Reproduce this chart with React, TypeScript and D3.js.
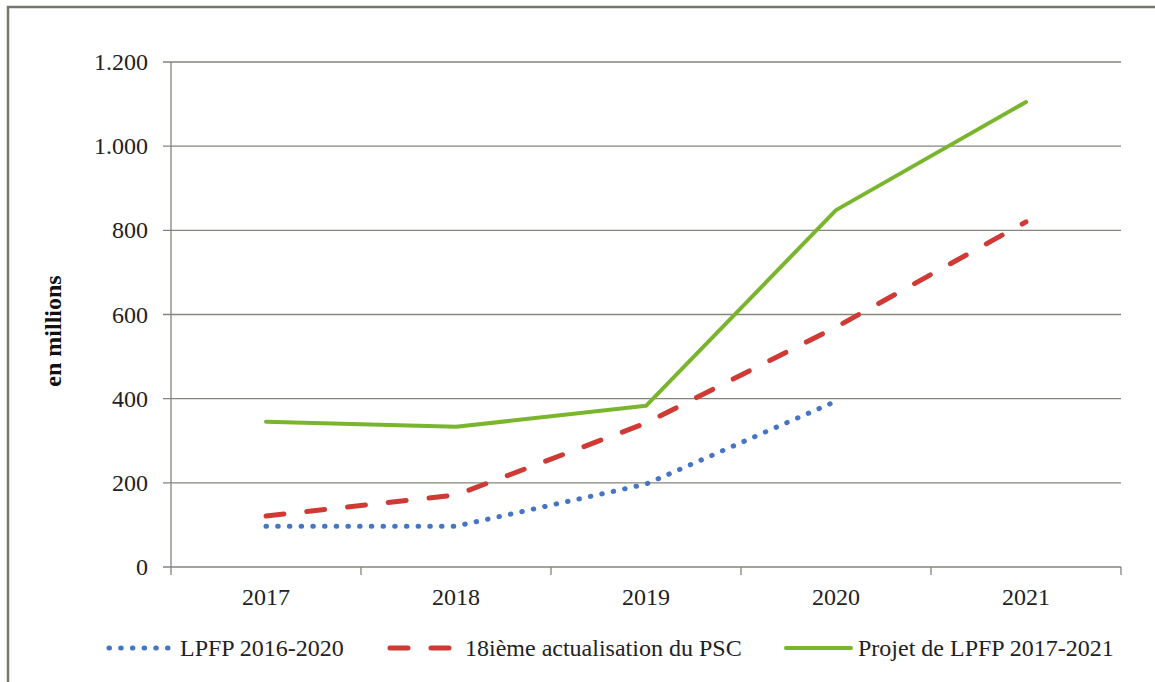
import React from 'react';
import * as d3 from 'd3';

// categories and series (en millions)
const years = ['2017', '2018', '2019', '2020', '2021'];
const lpfp2016 = [97, 97, 197, 394, null];
const actualisation18 = [121, 171, 342, 570, 820];
const projet2017 = [345, 333, 383, 848, 1105];
const yTicks = [0, 200, 400, 600, 800, 1000, 1200];

const seriesNames = ['LPFP 2016-2020', '18ième actualisation du PSC', 'Projet de LPFP 2017-2021'];

const W = 1155;
const H = 682;
const margin = { top: 62, right: 34, bottom: 115, left: 171 };
const FONT = '"Liberation Serif", "Times New Roman", serif';
const GRID = '#85857a';

const fmt = (v: number) => d3.format(',')(v).replace(/,/g, '.');

const App = () => {
  const x = d3.scaleBand<string>()
    .domain(years)
    .range([margin.left, W - margin.right]);

  const y = d3.scaleLinear()
    .domain([0, 1200])
    .range([H - margin.bottom, margin.top]);

  const cx = (d: string) => (x(d) as number) + x.bandwidth() / 2;

  const line = d3.line<[string, number | null]>()
    .defined(d => d[1] != null)
    .x(d => cx(d[0]))
    .y(d => y(d[1] as number));

  const series = [
    { name: seriesNames[0], values: lpfp2016, color: '#4575c4', width: 5, dash: '0.5 11.2' },
    { name: seriesNames[1], values: actualisation18, color: '#cf3a35', width: 5, dash: '18 23' },
    { name: seriesNames[2], values: projet2017, color: '#7ab52e', width: 4, dash: null },
  ];

  const x0 = margin.left;
  const x1 = W - margin.right;
  const yBase = y(0);

  // legend layout
  const legend = [
    { sx: 109, ex: 172, tx: 180 },
    { sx: 390, ex: 455, tx: 465 },
    { sx: 786, ex: 851, tx: 858 },
  ];
  const legendY = 648;

  return (
    <svg width={W} height={H} style={{ position: 'absolute', left: 0, top: 0, background: '#fff' }}>
      {/* outer frame */}
      <rect x={8} y={7} width={W + 10} height={H + 10} fill="#fff" stroke="#77786a" strokeWidth={2.5} />

      {/* grid lines and y ticks */}
      {yTicks.map(t => (
        <g key={t}>
          <line x1={x0 - 8} x2={x1} y1={y(t)} y2={y(t)} stroke={GRID} strokeWidth={1.3} />
          <text x={148} y={y(t) + 8} textAnchor="end" fontFamily={FONT} fontSize={24} fill="#222">
            {fmt(t)}
          </text>
        </g>
      ))}

      {/* axes */}
      <line x1={x0} x2={x0} y1={margin.top} y2={yBase + 8} stroke={GRID} strokeWidth={1.3} />
      {years.map((d, i) => (
        <line key={'t' + d} x1={(x(d) as number) + x.bandwidth()} x2={(x(d) as number) + x.bandwidth()}
          y1={yBase} y2={yBase + 8} stroke={GRID} strokeWidth={1.3} />
      ))}
      {years.map(d => (
        <text key={'l' + d} x={cx(d)} y={605} textAnchor="middle" fontFamily={FONT} fontSize={24} fill="#222">
          {d}
        </text>
      ))}

      {/* y axis title */}
      <text transform={`translate(61,331) rotate(-90)`} textAnchor="middle" fontFamily={FONT}
        fontSize={24} fontWeight="bold" fill="#111">
        en millions
      </text>

      {/* series */}
      {series.map(s => (
        <path key={s.name}
          d={line(years.map((yr, i) => [yr, s.values[i]] as [string, number | null])) || ''}
          fill="none" stroke={s.color} strokeWidth={s.width}
          strokeDasharray={s.dash || undefined}
          strokeLinecap="round" strokeLinejoin="round" />
      ))}

      {/* legend */}
      {series.map((s, i) => (
        <g key={'lg' + i}>
          <line x1={legend[i].sx} x2={legend[i].ex} y1={legendY} y2={legendY}
            stroke={s.color} strokeWidth={s.width}
            strokeDasharray={s.dash || undefined} strokeLinecap="round" />
          <text x={legend[i].tx} y={legendY + 8} fontFamily={FONT} fontSize={24} fill="#222">
            {s.name}
          </text>
        </g>
      ))}
    </svg>
  );
};

export default App;
